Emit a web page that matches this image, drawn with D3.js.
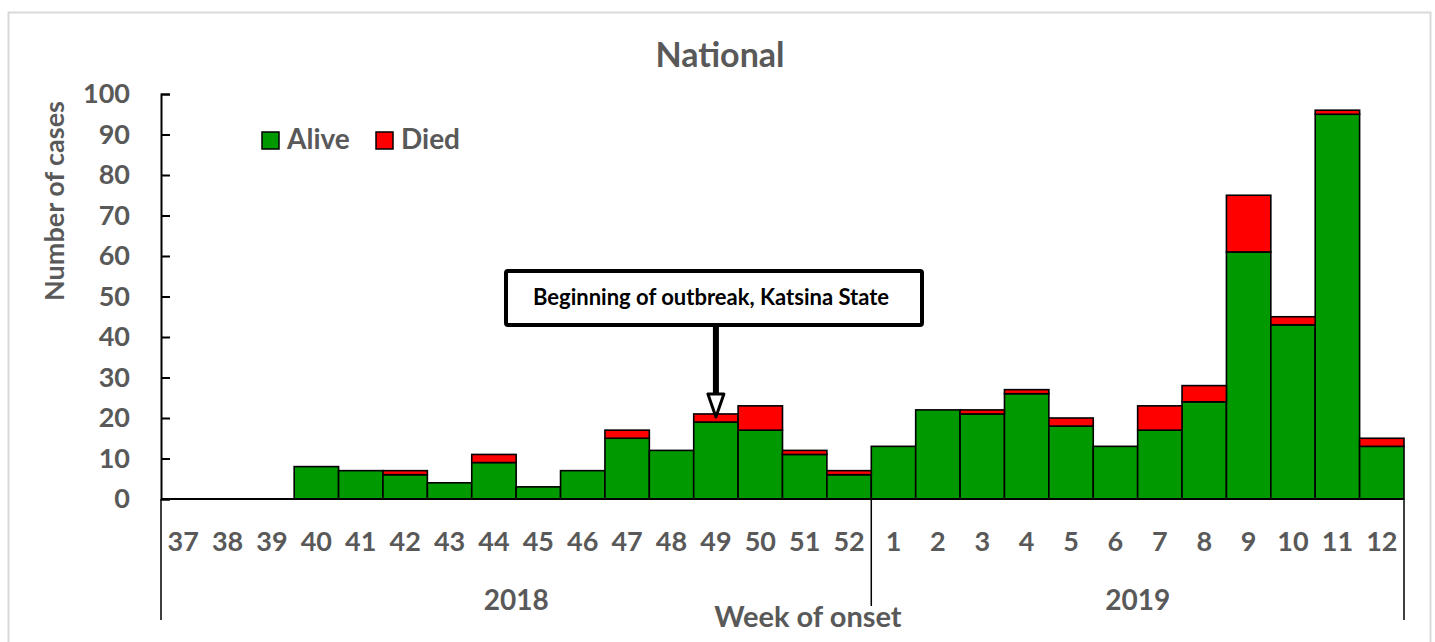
<!DOCTYPE html>
<html>
<head>
<meta charset="utf-8">
<script src="https://cdn.jsdelivr.net/npm/d3@7"></script>
<style>
  body { margin: 0; background: #fff; }
  text { font-family: Lato, "Open Sans", sans-serif; font-weight: bold; }
</style>
</head>
<body>
<div id="chart"></div>
<script>
// week of onset, split by year
var weeks2018 = ["37","38","39","40","41","42","43","44","45","46","47","48","49","50","51","52"];
var weeks2019 = ["1","2","3","4","5","6","7","8","9","10","11","12"];
var alive2018 = [0,0,0,8,7,6,4,9,3,7,15,12,19,17,11,6];
var died2018  = [0,0,0,0,0,1,0,2,0,0,2,0,2,6,1,1];
var alive2019 = [13,22,21,26,18,13,17,24,61,43,95,13];
var died2019  = [0,0,1,1,2,0,6,4,14,2,1,2];
var yTicks = [0,10,20,30,40,50,60,70,80,90,100];

var width = 1435, height = 642;
var margin = {top: 94, right: 31, bottom: 143, left: 161};
var gray = "#595959";

var data = [];
weeks2018.forEach(function(w, i) { data.push({key: "2018-" + w, week: w, year: "2018", alive: alive2018[i], died: died2018[i]}); });
weeks2019.forEach(function(w, i) { data.push({key: "2019-" + w, week: w, year: "2019", alive: alive2019[i], died: died2019[i]}); });

var svg = d3.select("#chart").append("svg")
    .attr("width", width)
    .attr("height", height);

// outer frame
svg.append("rect")
    .attr("x", 8.5).attr("y", 12.5)
    .attr("width", 1422).attr("height", 640)
    .attr("fill", "none")
    .attr("stroke", "#d9d9d9")
    .attr("stroke-width", 2);

var x = d3.scaleBand()
    .domain(data.map(function(d) { return d.key; }))
    .range([margin.left, width - margin.right])
    .padding(0);

var y = d3.scaleLinear()
    .domain([0, 100])
    .range([height - margin.bottom, margin.top]);

// title
svg.append("text")
    .attr("x", 720).attr("y", 58)
    .attr("text-anchor", "middle")
    .attr("dominant-baseline", "middle")
    .attr("fill", gray)
    .style("font-size", "34px")
    .text("National");

// bars
var bars = svg.append("g").attr("class", "bars");
bars.selectAll("rect.alive")
    .data(data.filter(function(d) { return d.alive > 0; }))
    .enter().append("rect")
    .attr("class", "alive")
    .attr("x", function(d) { return x(d.key); })
    .attr("width", x.bandwidth())
    .attr("y", function(d) { return y(d.alive); })
    .attr("height", function(d) { return y(0) - y(d.alive); })
    .attr("fill", "#009900")
    .attr("stroke", "#000")
    .attr("stroke-width", 1.6);

bars.selectAll("rect.died")
    .data(data.filter(function(d) { return d.died > 0; }))
    .enter().append("rect")
    .attr("class", "died")
    .attr("x", function(d) { return x(d.key); })
    .attr("width", x.bandwidth())
    .attr("y", function(d) { return y(d.alive + d.died); })
    .attr("height", function(d) { return y(d.alive) - y(d.alive + d.died); })
    .attr("fill", "#ff0000")
    .attr("stroke", "#000")
    .attr("stroke-width", 1.6);

// y axis
var yAxis = svg.append("g")
    .attr("transform", "translate(" + margin.left + ",0)")
    .call(d3.axisLeft(y).tickValues(yTicks).tickSize(-9).tickPadding(31));
yAxis.select(".domain").attr("stroke", "#000").attr("stroke-width", 2);
yAxis.selectAll(".tick line").attr("stroke", "#000").attr("stroke-width", 2);
yAxis.selectAll(".tick text")
    .attr("fill", gray)
    .style("font-size", "27px")
    .style("font-family", "Lato, sans-serif");

svg.append("text")
    .attr("transform", "translate(57,201) rotate(-90)")
    .attr("text-anchor", "middle")
    .attr("dominant-baseline", "middle")
    .attr("fill", gray)
    .style("font-size", "27px")
    .text("Number of cases");

// x axis: baseline, week labels, year groups
var y0 = y(0);
svg.append("line")
    .attr("x1", margin.left).attr("x2", width - margin.right)
    .attr("y1", y0).attr("y2", y0)
    .attr("stroke", "#000").attr("stroke-width", 2);

svg.append("g").selectAll("text")
    .data(data)
    .enter().append("text")
    .attr("x", function(d) { return x(d.key) + x.bandwidth() / 2; })
    .attr("y", 544)
    .attr("text-anchor", "middle")
    .attr("dominant-baseline", "middle")
    .attr("fill", gray)
    .style("font-size", "27px")
    .text(function(d) { return d.week; });

var yearSplit = [x("2018-" + weeks2018[0]), x("2019-" + weeks2019[0]), x.range()[1]];
svg.append("g").selectAll("line")
    .data(yearSplit)
    .enter().append("line")
    .attr("x1", function(d) { return d; }).attr("x2", function(d) { return d; })
    .attr("y1", y0).attr("y2", function(d, i) { return i === 1 ? 606 : 620; })
    .attr("stroke", "#000").attr("stroke-width", 1.5);

var years = [
  {year: "2018", x0: yearSplit[0], x1: yearSplit[1]},
  {year: "2019", x0: yearSplit[1], x1: yearSplit[2]}
];
svg.append("g").selectAll("text")
    .data(years)
    .enter().append("text")
    .attr("x", function(d) { return (d.x0 + d.x1) / 2; })
    .attr("y", 603)
    .attr("text-anchor", "middle")
    .attr("dominant-baseline", "middle")
    .attr("fill", gray)
    .style("font-size", "28px")
    .text(function(d) { return d.year; });

svg.append("text")
    .attr("x", 808).attr("y", 620)
    .attr("text-anchor", "middle")
    .attr("dominant-baseline", "middle")
    .attr("fill", gray)
    .style("font-size", "29px")
    .text("Week of onset");

// legend
var legend = svg.append("g").attr("transform", "translate(262,132)");
var legendItems = [{name: "Alive", color: "#009900", dx: 0}, {name: "Died", color: "#ff0000", dx: 114}];
var li = legend.selectAll("g").data(legendItems).enter().append("g")
    .attr("transform", function(d) { return "translate(" + d.dx + ",0)"; });
li.append("rect")
    .attr("width", 17).attr("height", 17)
    .attr("fill", function(d) { return d.color; })
    .attr("stroke", "#000").attr("stroke-width", 1.5);
li.append("text")
    .attr("x", 25).attr("y", 10)
    .attr("dominant-baseline", "middle")
    .attr("fill", gray)
    .style("font-size", "28px")
    .text(function(d) { return d.name; });

// annotation: outbreak start
var ax = x("2018-49") + x.bandwidth() / 2;
var tipY = y(21) + 3;
var ann = svg.append("g");
ann.append("rect")
    .attr("x", 506).attr("y", 271)
    .attr("width", 416).attr("height", 54)
    .attr("rx", 2)
    .attr("fill", "#fff")
    .attr("stroke", "#000")
    .attr("stroke-width", 4);
ann.append("text")
    .attr("x", 711).attr("y", 299)
    .attr("text-anchor", "middle")
    .attr("dominant-baseline", "middle")
    .attr("fill", "#000")
    .style("font-size", "22px")
    .text("Beginning of outbreak, Katsina State");
ann.append("line")
    .attr("x1", ax).attr("x2", ax)
    .attr("y1", 325).attr("y2", tipY - 22)
    .attr("stroke", "#000").attr("stroke-width", 6);
ann.append("path")
    .attr("d", "M" + (ax - 8) + "," + (tipY - 23) + "L" + (ax + 8) + "," + (tipY - 23) + "L" + ax + "," + tipY + "Z")
    .attr("fill", "#fff")
    .attr("stroke", "#000")
    .attr("stroke-width", 3)
    .attr("stroke-linejoin", "round");
</script>
</body>
</html>
